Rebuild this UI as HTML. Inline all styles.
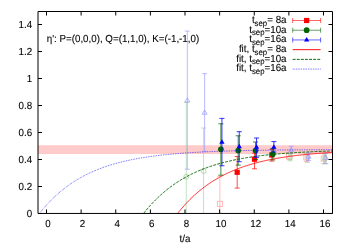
<!DOCTYPE html><html><head><meta charset="utf-8"><title>plot</title>
<style>html,body{margin:0;padding:0;background:#fff;}svg{display:block;will-change:transform;text-rendering:geometricPrecision;}text{font-family:"Liberation Sans",sans-serif;font-size:10.2px;fill:#000;stroke:#000;stroke-width:0.1px;}</style></head><body>
<svg width="350" height="245" viewBox="0 0 350 245">
<rect width="350" height="245" fill="#fff"/>
<defs><clipPath id="c"><rect x="38" y="11.5" width="294.5" height="201.95"/></clipPath></defs>
<rect x="38" y="145.25" width="294.5" height="8.8" fill="#ffcaca"/>
<g clip-path="url(#c)" fill="none">
<path d="M219.88 176.30V240.00M217.38 176.30h5.00M217.38 240.00h5.00" stroke="#ffa2a2" stroke-width="0.7"/>
<rect x="217.28" y="201.20" width="5.20" height="5.20" stroke="#ffa2a2" stroke-width="0.75" fill="none"/>
<path d="M289.12 153.00V159.60M286.62 153.00h5.00M286.62 159.60h5.00" stroke="#ffa2a2" stroke-width="0.7"/>
<rect x="286.52" y="153.80" width="5.20" height="5.20" stroke="#ffa2a2" stroke-width="0.75" fill="none"/>
<path d="M306.44 153.50V161.50M303.94 153.50h5.00M303.94 161.50h5.00" stroke="#ffa2a2" stroke-width="0.7"/>
<rect x="303.84" y="154.90" width="5.20" height="5.20" stroke="#ffa2a2" stroke-width="0.75" fill="none"/>
<path d="M323.75 153.50V163.60M321.25 153.50h5.00M321.25 163.60h5.00" stroke="#ffa2a2" stroke-width="0.7"/>
<rect x="321.15" y="155.90" width="5.20" height="5.20" stroke="#ffa2a2" stroke-width="0.75" fill="none"/>
<path d="M186.25 102.50V260.00M183.75 102.50h5.00M183.75 260.00h5.00" stroke="#a2d2a2" stroke-width="0.65"/>
<circle cx="186.25" cy="176.80" r="2.50" stroke="#a2d2a2" stroke-width="0.75" fill="none"/>
<path d="M203.56 128.00V260.00M201.06 128.00h5.00M201.06 260.00h5.00" stroke="#a2d2a2" stroke-width="0.65"/>
<circle cx="203.56" cy="171.00" r="2.50" stroke="#a2d2a2" stroke-width="0.75" fill="none"/>
<path d="M290.12 154.00V160.80M287.62 154.00h5.00M287.62 160.80h5.00" stroke="#a2d2a2" stroke-width="0.7"/>
<circle cx="290.12" cy="157.50" r="2.50" stroke="#a2d2a2" stroke-width="0.75" fill="none"/>
<path d="M307.44 153.50V162.40M304.94 153.50h5.00M304.94 162.40h5.00" stroke="#a2d2a2" stroke-width="0.7"/>
<circle cx="307.44" cy="157.80" r="2.50" stroke="#a2d2a2" stroke-width="0.75" fill="none"/>
<path d="M324.75 154.00V164.00M322.25 154.00h5.00M322.25 164.00h5.00" stroke="#a2d2a2" stroke-width="0.7"/>
<circle cx="324.75" cy="158.80" r="2.50" stroke="#a2d2a2" stroke-width="0.75" fill="none"/>
<path d="M187.30 31.10V169.20M184.80 31.10h5.00M184.80 169.20h5.00" stroke="#9c9cff" stroke-width="0.7"/>
<path d="M187.30 97.80L184.80 102.00L189.80 102.00Z" stroke="#9c9cff" stroke-width="0.75" fill="none"/>
<path d="M204.61 73.70V151.20M202.11 73.70h5.00M202.11 151.20h5.00" stroke="#9c9cff" stroke-width="0.7"/>
<path d="M204.61 110.00L202.11 114.20L207.11 114.20Z" stroke="#9c9cff" stroke-width="0.75" fill="none"/>
<path d="M291.18 146.30V153.30M288.68 146.30h5.00M288.68 153.30h5.00" stroke="#9c9cff" stroke-width="0.7"/>
<path d="M291.18 147.40L288.68 151.60L293.68 151.60Z" stroke="#9c9cff" stroke-width="0.75" fill="none"/>
<path d="M308.49 152.80V160.60M305.99 152.80h5.00M305.99 160.60h5.00" stroke="#9c9cff" stroke-width="0.7"/>
<path d="M308.49 154.00L305.99 158.20L310.99 158.20Z" stroke="#9c9cff" stroke-width="0.75" fill="none"/>
<path d="M325.80 153.20V163.40M323.30 153.20h5.00M323.30 163.40h5.00" stroke="#9c9cff" stroke-width="0.7"/>
<path d="M325.80 155.20L323.30 159.40L328.30 159.40Z" stroke="#9c9cff" stroke-width="0.75" fill="none"/>
<path d="M237.19 156.50V188.10M234.69 156.50h5.00M234.69 188.10h5.00" stroke="#ff0000" stroke-width="0.7"/>
<rect x="234.59" y="169.70" width="5.20" height="5.20" stroke="#ff0000" stroke-width="0" fill="#ff0000"/>
<path d="M254.50 153.20V168.80M252.00 153.20h5.00M252.00 168.80h5.00" stroke="#ff0000" stroke-width="0.7"/>
<rect x="251.90" y="156.60" width="5.20" height="5.20" stroke="#ff0000" stroke-width="0" fill="#ff0000"/>
<path d="M271.81 149.50V161.10M269.31 149.50h5.00M269.31 161.10h5.00" stroke="#ff0000" stroke-width="0.7"/>
<rect x="269.21" y="152.40" width="5.20" height="5.20" stroke="#ff0000" stroke-width="0" fill="#ff0000"/>
<path d="M220.88 123.80V175.20M218.38 123.80h5.00M218.38 175.20h5.00" stroke="#006400" stroke-width="0.75"/>
<circle cx="220.88" cy="149.30" r="2.85" stroke="#006400" stroke-width="0" fill="#006400"/>
<path d="M238.19 135.80V165.10M235.69 135.80h5.00M235.69 165.10h5.00" stroke="#006400" stroke-width="0.75"/>
<circle cx="238.19" cy="150.50" r="2.85" stroke="#006400" stroke-width="0" fill="#006400"/>
<path d="M255.50 142.00V159.50M253.00 142.00h5.00M253.00 159.50h5.00" stroke="#006400" stroke-width="0.75"/>
<circle cx="255.50" cy="150.60" r="2.85" stroke="#006400" stroke-width="0" fill="#006400"/>
<path d="M272.81 148.50V159.90M270.31 148.50h5.00M270.31 159.90h5.00" stroke="#006400" stroke-width="0.75"/>
<circle cx="272.81" cy="154.10" r="2.85" stroke="#006400" stroke-width="0" fill="#006400"/>
<path d="M221.93 118.40V165.80M219.43 118.40h5.00M219.43 165.80h5.00" stroke="#0000ff" stroke-width="0.8"/>
<path d="M221.93 139.20L219.28 143.70L224.58 143.70Z" stroke="none" fill="#0000ff"/>
<path d="M239.24 131.70V161.70M236.74 131.70h5.00M236.74 161.70h5.00" stroke="#0000ff" stroke-width="0.8"/>
<path d="M239.24 143.70L236.59 148.20L241.89 148.20Z" stroke="none" fill="#0000ff"/>
<path d="M256.55 138.00V157.30M254.05 138.00h5.00M254.05 157.30h5.00" stroke="#0000ff" stroke-width="0.8"/>
<path d="M256.55 144.30L253.90 148.80L259.20 148.80Z" stroke="none" fill="#0000ff"/>
<path d="M273.86 141.60V152.00M271.36 141.60h5.00M271.36 152.00h5.00" stroke="#0000ff" stroke-width="0.8"/>
<path d="M273.86 144.30L271.21 148.80L276.51 148.80Z" stroke="none" fill="#0000ff"/>
<path d="M177.56 213.50L178.33 212.52L179.10 211.56L179.87 210.61L180.65 209.68L181.42 208.76L182.19 207.85L182.97 206.96L183.74 206.08L184.51 205.22L185.29 204.36L186.06 203.53L186.83 202.70L187.60 201.89L188.38 201.09L189.15 200.30L189.92 199.52L190.70 198.76L191.47 198.00L192.24 197.26L193.02 196.53L193.79 195.81L194.56 195.11L195.33 194.41L196.11 193.72L196.88 193.05L197.65 192.38L198.43 191.73L199.20 191.08L199.97 190.45L200.75 189.82L201.52 189.20L202.29 188.60L203.06 188.00L203.84 187.41L204.61 186.83L205.38 186.26L206.16 185.70L206.93 185.15L207.70 184.60L208.48 184.07L209.25 183.54L210.02 183.02L210.79 182.50L211.57 182.00L212.34 181.50L213.11 181.01L213.89 180.53L214.66 180.06L215.43 179.59L216.21 179.13L216.98 178.68L217.75 178.23L218.52 177.79L219.30 177.36L220.07 176.94L220.84 176.52L221.62 176.10L222.39 175.70L223.16 175.30L223.94 174.90L224.71 174.51L225.48 174.13L226.25 173.76L227.03 173.39L227.80 173.02L228.57 172.66L229.35 172.31L230.12 171.96L230.89 171.62L231.67 171.28L232.44 170.94L233.21 170.62L233.98 170.29L234.76 169.98L235.53 169.66L236.30 169.36L237.08 169.05L237.85 168.75L238.62 168.46L239.40 168.17L240.17 167.88L240.94 167.60L241.71 167.33L242.49 167.06L243.26 166.79L244.03 166.52L244.81 166.26L245.58 166.01L246.35 165.75L247.13 165.51L247.90 165.26L248.67 165.02L249.44 164.78L250.22 164.55L250.99 164.32L251.76 164.09L252.54 163.87L253.31 163.65L254.08 163.44L254.86 163.22L255.63 163.01L256.40 162.81L257.17 162.60L257.95 162.40L258.72 162.21L259.49 162.01L260.27 161.82L261.04 161.63L261.81 161.45L262.59 161.26L263.36 161.09L264.13 160.91L264.90 160.73L265.68 160.56L266.45 160.39L267.22 160.23L268.00 160.06L268.77 159.90L269.54 159.74L270.32 159.59L271.09 159.43L271.86 159.28L272.64 159.13L273.41 158.98L274.18 158.84L274.95 158.70L275.73 158.56L276.50 158.42L277.27 158.28L278.05 158.15L278.82 158.02L279.59 157.89L280.37 157.76L281.14 157.63L281.91 157.51L282.68 157.39L283.46 157.27L284.23 157.15L285.00 157.03L285.78 156.91L286.55 156.80L287.32 156.69L288.10 156.58L288.87 156.47L289.64 156.37L290.41 156.26L291.19 156.16L291.96 156.06L292.73 155.96L293.51 155.86L294.28 155.76L295.05 155.67L295.83 155.57L296.60 155.48L297.37 155.39L298.14 155.30L298.92 155.21L299.69 155.12L300.46 155.04L301.24 154.95L302.01 154.87L302.78 154.79L303.56 154.71L304.33 154.63L305.10 154.55L305.87 154.47L306.65 154.40L307.42 154.32L308.19 154.25L308.97 154.17L309.74 154.10L310.51 154.03L311.29 153.96L312.06 153.90L312.83 153.83L313.60 153.76L314.38 153.70L315.15 153.63L315.92 153.57L316.70 153.51L317.47 153.45L318.24 153.39L319.02 153.33L319.79 153.27L320.56 153.21L321.33 153.16L322.11 153.10L322.88 153.05L323.65 152.99L324.43 152.94L325.20 152.89L325.97 152.83L326.75 152.78L327.52 152.73L328.29 152.68L329.06 152.64L329.84 152.59L330.61 152.54L331.38 152.49L332.16 152.45" stroke="#ff0000" stroke-width="0.85"/>
<path d="M143.55 213.50L144.50 212.31L145.44 211.14L146.38 209.99L147.33 208.87L148.27 207.76L149.21 206.68L150.15 205.61L151.10 204.57L152.04 203.54L152.98 202.54L153.93 201.55L154.87 200.58L155.81 199.63L156.76 198.70L157.70 197.78L158.64 196.88L159.59 196.00L160.53 195.14L161.47 194.29L162.41 193.45L163.36 192.63L164.30 191.83L165.24 191.04L166.19 190.27L167.13 189.51L168.07 188.77L169.02 188.04L169.96 187.32L170.90 186.62L171.84 185.92L172.79 185.25L173.73 184.58L174.67 183.93L175.62 183.29L176.56 182.66L177.50 182.04L178.45 181.44L179.39 180.84L180.33 180.26L181.27 179.69L182.22 179.12L183.16 178.57L184.10 178.03L185.05 177.50L185.99 176.98L186.93 176.47L187.88 175.97L188.82 175.47L189.76 174.99L190.70 174.52L191.65 174.05L192.59 173.59L193.53 173.15L194.48 172.71L195.42 172.27L196.36 171.85L197.31 171.43L198.25 171.03L199.19 170.63L200.13 170.23L201.08 169.85L202.02 169.47L202.96 169.10L203.91 168.73L204.85 168.37L205.79 168.02L206.74 167.68L207.68 167.34L208.62 167.01L209.56 166.68L210.51 166.36L211.45 166.05L212.39 165.74L213.34 165.44L214.28 165.14L215.22 164.85L216.17 164.57L217.11 164.29L218.05 164.01L218.99 163.74L219.94 163.48L220.88 163.22L221.82 162.96L222.77 162.71L223.71 162.46L224.65 162.22L225.60 161.99L226.54 161.75L227.48 161.53L228.42 161.30L229.37 161.08L230.31 160.87L231.25 160.66L232.20 160.45L233.14 160.24L234.08 160.04L235.03 159.85L235.97 159.66L236.91 159.47L237.86 159.28L238.80 159.10L239.74 158.92L240.68 158.75L241.63 158.57L242.57 158.41L243.51 158.24L244.46 158.08L245.40 157.92L246.34 157.76L247.29 157.61L248.23 157.46L249.17 157.31L250.11 157.16L251.06 157.02L252.00 156.88L252.94 156.74L253.89 156.61L254.83 156.48L255.77 156.35L256.72 156.22L257.66 156.10L258.60 155.97L259.54 155.85L260.49 155.73L261.43 155.62L262.37 155.50L263.32 155.39L264.26 155.28L265.20 155.18L266.15 155.07L267.09 154.97L268.03 154.87L268.97 154.77L269.92 154.67L270.86 154.57L271.80 154.48L272.75 154.39L273.69 154.29L274.63 154.21L275.58 154.12L276.52 154.03L277.46 153.95L278.40 153.87L279.35 153.78L280.29 153.70L281.23 153.63L282.18 153.55L283.12 153.47L284.06 153.40L285.01 153.33L285.95 153.26L286.89 153.19L287.83 153.12L288.78 153.05L289.72 152.99L290.66 152.92L291.61 152.86L292.55 152.80L293.49 152.73L294.44 152.67L295.38 152.62L296.32 152.56L297.26 152.50L298.21 152.45L299.15 152.39L300.09 152.34L301.04 152.28L301.98 152.23L302.92 152.18L303.87 152.13L304.81 152.08L305.75 152.04L306.69 151.99L307.64 151.94L308.58 151.90L309.52 151.85L310.47 151.81L311.41 151.77L312.35 151.72L313.30 151.68L314.24 151.64L315.18 151.60L316.13 151.56L317.07 151.53L318.01 151.49L318.95 151.45L319.90 151.42L320.84 151.38L321.78 151.34L322.73 151.31L323.67 151.28L324.61 151.24L325.56 151.21L326.50 151.18L327.44 151.15L328.38 151.12L329.33 151.09L330.27 151.06L331.21 151.03L332.16 151.00" stroke="#006400" stroke-width="0.95" stroke-dasharray="2.9 1.2"/>
<path d="M39.40 213.50L40.87 211.66L42.33 209.87L43.79 208.14L45.26 206.45L46.72 204.82L48.18 203.23L49.65 201.68L51.11 200.18L52.58 198.73L54.04 197.31L55.50 195.94L56.97 194.60L58.43 193.31L59.89 192.05L61.36 190.82L62.82 189.64L64.29 188.48L65.75 187.36L67.21 186.27L68.68 185.22L70.14 184.19L71.60 183.19L73.07 182.22L74.53 181.28L76.00 180.37L77.46 179.48L78.92 178.62L80.39 177.78L81.85 176.97L83.32 176.18L84.78 175.42L86.24 174.67L87.71 173.95L89.17 173.25L90.63 172.56L92.10 171.90L93.56 171.26L95.03 170.63L96.49 170.02L97.95 169.43L99.42 168.86L100.88 168.31L102.34 167.76L103.81 167.24L105.27 166.73L106.74 166.24L108.20 165.75L109.66 165.29L111.13 164.83L112.59 164.39L114.05 163.97L115.52 163.55L116.98 163.15L118.45 162.75L119.91 162.37L121.37 162.00L122.84 161.64L124.30 161.30L125.76 160.96L127.23 160.63L128.69 160.31L130.16 160.00L131.62 159.70L133.08 159.40L134.55 159.12L136.01 158.84L137.47 158.57L138.94 158.31L140.40 158.06L141.87 157.81L143.33 157.58L144.79 157.34L146.26 157.12L147.72 156.90L149.18 156.69L150.65 156.48L152.11 156.28L153.58 156.09L155.04 155.90L156.50 155.71L157.97 155.54L159.43 155.36L160.89 155.19L162.36 155.03L163.82 154.87L165.29 154.72L166.75 154.57L168.21 154.42L169.68 154.28L171.14 154.14L172.61 154.01L174.07 153.88L175.53 153.76L177.00 153.63L178.46 153.52L179.92 153.40L181.39 153.29L182.85 153.18L184.32 153.07L185.78 152.97L187.24 152.87L188.71 152.78L190.17 152.68L191.63 152.59L193.10 152.50L194.56 152.42L196.03 152.33L197.49 152.25L198.95 152.17L200.42 152.10L201.88 152.02L203.34 151.95L204.81 151.88L206.27 151.81L207.74 151.74L209.20 151.68L210.66 151.62L212.13 151.56L213.59 151.50L215.05 151.44L216.52 151.39L217.98 151.33L219.45 151.28L220.91 151.23L222.37 151.18L223.84 151.13L225.30 151.08L226.76 151.04L228.23 151.00L229.69 150.95L231.16 150.91L232.62 150.87L234.08 150.83L235.55 150.79L237.01 150.76L238.47 150.72L239.94 150.69L241.40 150.65L242.87 150.62L244.33 150.59L245.79 150.56L247.26 150.53L248.72 150.50L250.19 150.47L251.65 150.44L253.11 150.41L254.58 150.39L256.04 150.36L257.50 150.34L258.97 150.32L260.43 150.29L261.90 150.27L263.36 150.25L264.82 150.23L266.29 150.21L267.75 150.19L269.21 150.17L270.68 150.15L272.14 150.13L273.61 150.11L275.07 150.09L276.53 150.08L278.00 150.06L279.46 150.05L280.92 150.03L282.39 150.01L283.85 150.00L285.32 149.99L286.78 149.97L288.24 149.96L289.71 149.95L291.17 149.93L292.63 149.92L294.10 149.91L295.56 149.90L297.03 149.89L298.49 149.88L299.95 149.87L301.42 149.86L302.88 149.85L304.34 149.84L305.81 149.83L307.27 149.82L308.74 149.81L310.20 149.80L311.66 149.79L313.13 149.78L314.59 149.78L316.05 149.77L317.52 149.76L318.98 149.75L320.45 149.75L321.91 149.74L323.37 149.73L324.84 149.73L326.30 149.72L327.76 149.71L329.23 149.71L330.69 149.70L332.16 149.70" stroke="#0000ff" stroke-width="0.75" stroke-dasharray="0.7 1.0"/>
</g>
<path d="M38 11.5H332.5V213.45H38ZM46.50 213.45v-4M46.50 11.5v4M81.12 213.45v-4M81.12 11.5v4M115.75 213.45v-4M115.75 11.5v4M150.38 213.45v-4M150.38 11.5v4M185.00 213.45v-4M185.00 11.5v4M219.62 213.45v-4M219.62 11.5v4M254.25 213.45v-4M254.25 11.5v4M288.88 213.45v-4M288.88 11.5v4M323.50 213.45v-4M323.50 11.5v4M38 213.50h4M332.5 213.50h-4M38 186.50h4M332.5 186.50h-4M38 159.50h4M332.5 159.50h-4M38 132.50h4M332.5 132.50h-4M38 105.50h4M332.5 105.50h-4M38 78.50h4M332.5 78.50h-4M38 51.50h4M332.5 51.50h-4M38 24.50h4M332.5 24.50h-4" stroke="#000" stroke-width="1" fill="none"/>
<text transform="translate(47.90,227) scale(0.958,1)" text-anchor="middle">0</text>
<text transform="translate(82.53,227) scale(0.958,1)" text-anchor="middle">2</text>
<text transform="translate(117.15,227) scale(0.958,1)" text-anchor="middle">4</text>
<text transform="translate(151.78,227) scale(0.958,1)" text-anchor="middle">6</text>
<text transform="translate(186.40,227) scale(0.958,1)" text-anchor="middle">8</text>
<text transform="translate(221.03,227) scale(0.958,1)" text-anchor="middle">10</text>
<text transform="translate(255.65,227) scale(0.958,1)" text-anchor="middle">12</text>
<text transform="translate(290.27,227) scale(0.958,1)" text-anchor="middle">14</text>
<text transform="translate(324.90,227) scale(0.958,1)" text-anchor="middle">16</text>
<text transform="translate(32.2,216.90) scale(0.958,1)" text-anchor="end">0</text>
<text transform="translate(32.2,189.90) scale(0.958,1)" text-anchor="end">0.2</text>
<text transform="translate(32.2,162.90) scale(0.958,1)" text-anchor="end">0.4</text>
<text transform="translate(32.2,135.90) scale(0.958,1)" text-anchor="end">0.6</text>
<text transform="translate(32.2,108.90) scale(0.958,1)" text-anchor="end">0.8</text>
<text transform="translate(32.2,81.90) scale(0.958,1)" text-anchor="end">1</text>
<text transform="translate(32.2,54.90) scale(0.958,1)" text-anchor="end">1.2</text>
<text transform="translate(32.2,27.90) scale(0.958,1)" text-anchor="end">1.4</text>
<text transform="translate(185,242) scale(0.958,1)" text-anchor="middle">t/a</text>
<text transform="translate(46.8,42.3) scale(0.958,1)">η': P=(0,0,0), Q=(1,1,0), K=(-1,-1,0)</text>
<text transform="translate(286.5,22.80) scale(0.958,1)" text-anchor="end">t<tspan dy="2.8" font-size="8.16px">sep</tspan><tspan dy="-2.8">= 8a</tspan></text>
<text transform="translate(286.5,32.52) scale(0.958,1)" text-anchor="end">t<tspan dy="2.8" font-size="8.16px">sep</tspan><tspan dy="-2.8">=10a</tspan></text>
<text transform="translate(286.5,42.24) scale(0.958,1)" text-anchor="end">t<tspan dy="2.8" font-size="8.16px">sep</tspan><tspan dy="-2.8">=16a</tspan></text>
<text transform="translate(286.5,51.96) scale(0.958,1)" text-anchor="end">fit, t<tspan dy="2.8" font-size="8.16px">sep</tspan><tspan dy="-2.8">= 8a</tspan></text>
<text transform="translate(286.5,61.68) scale(0.958,1)" text-anchor="end">fit, t<tspan dy="2.8" font-size="8.16px">sep</tspan><tspan dy="-2.8">=10a</tspan></text>
<text transform="translate(286.5,71.40) scale(0.958,1)" text-anchor="end">fit, t<tspan dy="2.8" font-size="8.16px">sep</tspan><tspan dy="-2.8">=16a</tspan></text>
<g fill="none">
<path d="M292.7 20.50H320.6M292.7 18.00v5M320.6 18.00v5" stroke="#ff0000" stroke-width="0.6"/>
<rect x="304.05" y="17.90" width="5.20" height="5.20" stroke="#ff0000" stroke-width="0" fill="#ff0000"/>
<path d="M292.7 30.22H320.6M292.7 27.72v5M320.6 27.72v5" stroke="#006400" stroke-width="0.6"/>
<circle cx="306.65" cy="30.22" r="2.85" stroke="#006400" stroke-width="0" fill="#006400"/>
<path d="M292.7 39.94H320.6M292.7 37.44v5M320.6 37.44v5" stroke="#0000ff" stroke-width="0.6"/>
<path d="M306.65 36.94L304.00 41.44L309.30 41.44Z" stroke="none" fill="#0000ff"/>
<path d="M292.7 49.66H320.6" stroke="#ff0000" stroke-width="0.95"/>
<path d="M292.7 59.38H320.6" stroke="#006400" stroke-width="0.95" stroke-dasharray="2.9 1.2"/>
<path d="M292.7 69.10H320.6" stroke="#0000ff" stroke-width="0.75" stroke-dasharray="0.7 1.0"/>
</g>
</svg></body></html>
